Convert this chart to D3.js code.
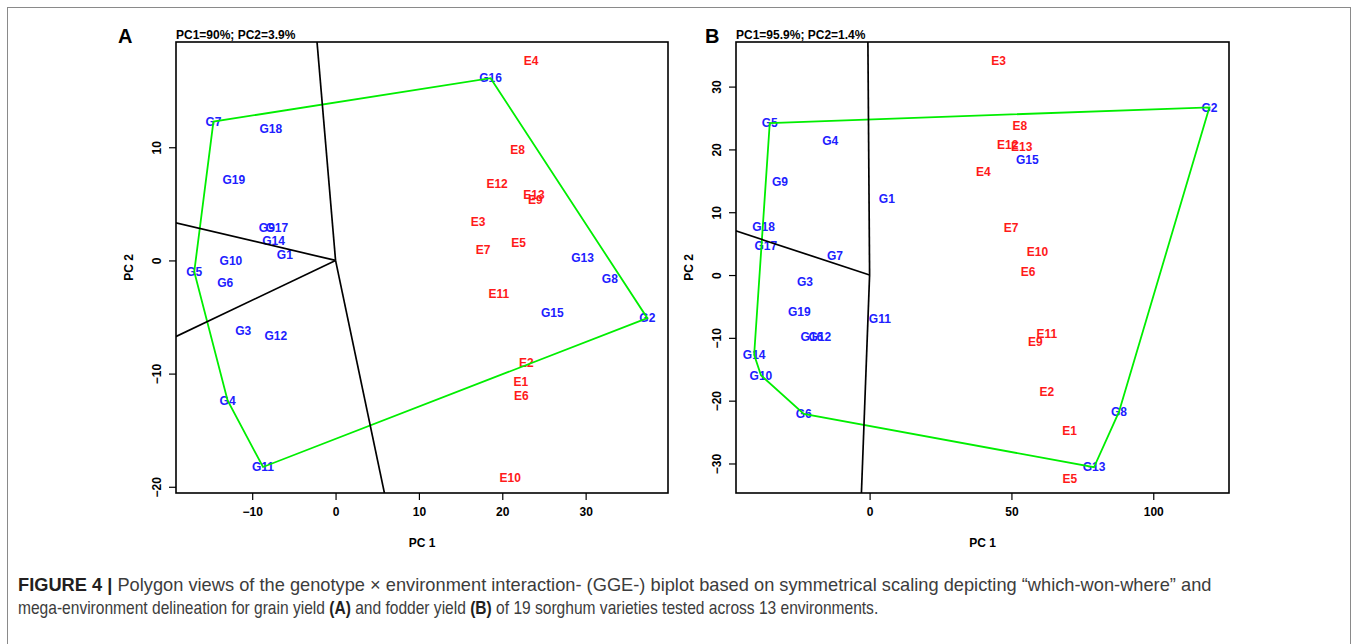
<!DOCTYPE html>
<html>
<head>
<meta charset="utf-8">
<script src="https://cdn.jsdelivr.net/npm/d3@7"></script>
<style>
  html, body { margin: 0; padding: 0; background: #fff; }
  svg { display: block; }
  text { font-family: "Liberation Sans", Arial, Helvetica, sans-serif; }
</style>
</head>
<body>
<svg id="fig" width="1358" height="644"></svg>
<script>
// ---------- DATA: Panel A (grain yield) ----------
const genoLabels = ["G1","G2","G3","G4","G5","G6","G7","G8","G9","G10","G11","G12","G13","G14","G15","G16","G17","G18","G19"];
const envLabels  = ["E1","E2","E3","E4","E5","E6","E7","E8","E9","E10","E11","E12","E13"];

const genoA_PC1 = [-6.08, 37.4, -11.08, -12.95, -16.95, -13.24, -14.65, 32.9, -8.24, -12.55, -8.7, -7.16, 29.63, -7.43, 26.0, 18.6, -7.04, -7.76, -12.2];
const genoA_PC2 = [0.50, -5.1, -6.2, -12.38, -1.0, -1.97, 12.27, -1.65, 2.85, -0.03, -18.25, -6.65, 0.2, 1.77, -4.59, 16.1, 2.85, 11.65, 7.09];
const envA_PC1  = [22.24, 22.88, 17.09, 23.45, 21.96, 22.3, 17.69, 21.84, 23.98, 20.96, 19.6, 19.38, 23.81];
const envA_PC2  = [-10.7, -9.07, 3.38, 17.65, 1.59, -11.94, 0.94, 9.77, 5.38, -19.24, -2.91, 6.77, 5.76];

// ---------- DATA: Panel B (fodder yield) ----------
const genoB_PC1 = [6.07, 119.8, -22.8, -13.9, -35.2, -23.2, -12.2, 87.9, -31.6, -38.3, 3.6, -17.5, 79.1, -40.7, 55.6, -20.4, -36.6, -37.4, -24.8];
const genoB_PC2 = [12.15, 26.7, -1.14, 21.4, 24.2, -22.1, 3.14, -21.8, 14.8, -15.97, -6.96, -9.76, -30.6, -12.7, 18.3, -9.76, 4.67, 7.64, -5.89];
const envB_PC1  = [70.5, 62.5, 45.5, 40.1, 70.6, 55.9, 49.9, 53.0, 58.4, 59.2, 62.5, 48.7, 53.6];
const envB_PC2  = [-24.8, -18.6, 34.16, 16.5, -32.4, 0.59, 7.48, 23.8, -10.56, 3.66, -9.4, 20.75, 20.4];

// ---------- Axis settings ----------
const ticksA_x = [-10, 0, 10, 20, 30];
const ticksA_y = [-20, -10, 0, 10];
const ticksB_x = [0, 50, 100];
const ticksB_y = [-30, -20, -10, 0, 10, 20, 30];
const domainA_x = [-19.14, 39.88], domainA_y = [-20.55, 19.3];
const domainB_x = [-47.1, 126.7],  domainB_y = [-34.7, 37.1];
const titleA = "PC1=90%; PC2=3.9%";
const titleB = "PC1=95.9%; PC2=1.4%";

const svg = d3.select("#fig");

// outer frame
svg.append("rect").attr("x", 7.5).attr("y", 7.5).attr("width", 1343).attr("height", 700)
  .attr("fill", "none").attr("stroke", "#8a8a8a").attr("stroke-width", 1);

function drawPanel(o) {
  const g = svg.append("g");
  const x = d3.scaleLinear().domain(o.dx).range([o.left, o.right]);
  const y = d3.scaleLinear().domain(o.dy).range([o.bottom, o.top]);
  const clipId = "clip" + o.letter;
  svg.append("defs").append("clipPath").attr("id", clipId)
    .append("rect").attr("x", o.left).attr("y", o.top)
    .attr("width", o.right - o.left).attr("height", o.bottom - o.top);

  const geno = genoLabels.map((l, i) => { const p = [o.gx[i], o.gy[i]]; p.label = l; return p; });
  const env = envLabels.map((l, i) => ({ label: l, x: o.ex[i], y: o.ey[i] }));

  // labels
  g.append("g").selectAll("text").data(env).join("text")
    .attr("x", d => x(d.x)).attr("y", d => y(d.y)).attr("dy", "0.35em")
    .attr("text-anchor", "middle").attr("font-size", 12).attr("font-weight", "bold")
    .attr("fill", "#ff1a1a").text(d => d.label);
  g.append("g").selectAll("text").data(geno).join("text")
    .attr("x", d => x(d[0])).attr("y", d => y(d[1])).attr("dy", "0.35em")
    .attr("text-anchor", "middle").attr("font-size", 12).attr("font-weight", "bold")
    .attr("fill", "#2020ff").text(d => d.label);

  // convex hull polygon of genotypes
  const hull = d3.polygonHull(geno);
  g.append("path")
    .attr("d", d3.line().x(d => x(d[0])).y(d => y(d[1])).curve(d3.curveLinearClosed)(hull))
    .attr("fill", "none").attr("stroke", "#00ee00").attr("stroke-width", 1.8);

  // rays perpendicular to polygon sides
  const rays = [];
  for (let i = 0; i < hull.length; i++) {
    const a = hull[i], b = hull[(i + 1) % hull.length];
    const d0 = b[0] - a[0], d1 = b[1] - a[1];
    const t = -(a[0] * d0 + a[1] * d1) / (d0 * d0 + d1 * d1);
    if (t > 0 && t < 1) {
      const fx = a[0] + t * d0, fy = a[1] + t * d1;
      rays.push([fx * 100, fy * 100]);
    }
  }
  g.append("g").attr("clip-path", `url(#${clipId})`).selectAll("line").data(rays).join("line")
    .attr("x1", x(0)).attr("y1", y(0))
    .attr("x2", d => x(d[0])).attr("y2", d => y(d[1]))
    .attr("stroke", "#000").attr("stroke-width", 1.7);

  // box
  g.append("rect").attr("x", o.left).attr("y", o.top)
    .attr("width", o.right - o.left).attr("height", o.bottom - o.top)
    .attr("fill", "none").attr("stroke", "#000").attr("stroke-width", 1.6);

  // axes
  const ax = g.append("g").attr("transform", `translate(0,${o.bottom})`)
    .call(d3.axisBottom(x).tickValues(o.tx).tickSize(7).tickPadding(4).tickFormat(d3.format("d")));
  ax.select(".domain").remove();
  ax.selectAll("line").attr("stroke", "#000").attr("stroke-width", 1.2);
  ax.selectAll("text").attr("y", 23).attr("dy", null)
    .attr("font-size", 12).attr("font-weight", "bold").attr("fill", "#000")
    .style("font-family", '"Liberation Sans", Arial, sans-serif');

  const ay = g.append("g").attr("transform", `translate(${o.left},0)`)
    .call(d3.axisLeft(y).tickValues(o.ty).tickSize(7).tickFormat(d3.format("d")));
  ay.select(".domain").remove();
  ay.selectAll("line").attr("stroke", "#000").attr("stroke-width", 1.2);
  ay.selectAll("text").attr("x", null).attr("dy", "0.35em").attr("text-anchor", "middle")
    .attr("transform", "translate(-19,0) rotate(-90)")
    .attr("font-size", 12).attr("font-weight", "bold").attr("fill", "#000")
    .style("font-family", '"Liberation Sans", Arial, sans-serif');

  // axis titles
  g.append("text").attr("x", (o.left + o.right) / 2).attr("y", 547)
    .attr("text-anchor", "middle").attr("font-size", 12).attr("font-weight", "bold").text("PC 1");
  g.append("text").attr("transform", `translate(${o.left - 47.5},${(o.top + o.bottom) / 2}) rotate(-90)`)
    .attr("dy", "0.35em").attr("text-anchor", "middle").attr("font-size", 12).attr("font-weight", "bold").text("PC 2");

  // title and panel letter
  g.append("text").attr("x", o.left).attr("y", 39)
    .attr("font-size", 12).attr("font-weight", "bold").text(o.title);
  g.append("text").attr("x", o.letterX).attr("y", 43)
    .attr("font-size", 20).attr("font-weight", "bold").text(o.letter);
}

drawPanel({ letter: "A", letterX: 118, title: titleA, left: 176, right: 668, top: 42, bottom: 493,
  dx: domainA_x, dy: domainA_y, tx: ticksA_x, ty: ticksA_y,
  gx: genoA_PC1, gy: genoA_PC2, ex: envA_PC1, ey: envA_PC2 });
drawPanel({ letter: "B", letterX: 705, title: titleB, left: 736, right: 1229, top: 42, bottom: 493,
  dx: domainB_x, dy: domainB_y, tx: ticksB_x, ty: ticksB_y,
  gx: genoB_PC1, gy: genoB_PC2, ex: envB_PC1, ey: envB_PC2 });

// caption
function captionLine(parts, xStart, baseline, width) {
  const g = svg.append("g");
  const t = g.append("text").attr("x", 0).attr("y", 0).attr("font-size", 17.5).attr("fill", "#3c3c3c");
  parts.forEach(p => {
    t.append("tspan").attr("font-weight", p.b ? "bold" : "normal")
      .attr("fill", p.b ? "#231f20" : "#3c3c3c").text(p.s);
  });
  const w = t.node().getComputedTextLength();
  g.attr("transform", `translate(${xStart},${baseline}) scale(${width / w},1)`);
}
captionLine([
  { s: "FIGURE 4 | ", b: true },
  { s: "Polygon views of the genotype \u00d7 environment interaction- (GGE-) biplot based on symmetrical scaling depicting \u201cwhich-won-where\u201d and", b: false }
], 18, 591, 1194);
captionLine([
  { s: "mega-environment delineation for grain yield ", b: false },
  { s: "(A)", b: true },
  { s: " and fodder yield ", b: false },
  { s: "(B)", b: true },
  { s: " of 19 sorghum varieties tested across 13 environments.", b: false }
], 18, 614, 861);
</script>
</body>
</html>
